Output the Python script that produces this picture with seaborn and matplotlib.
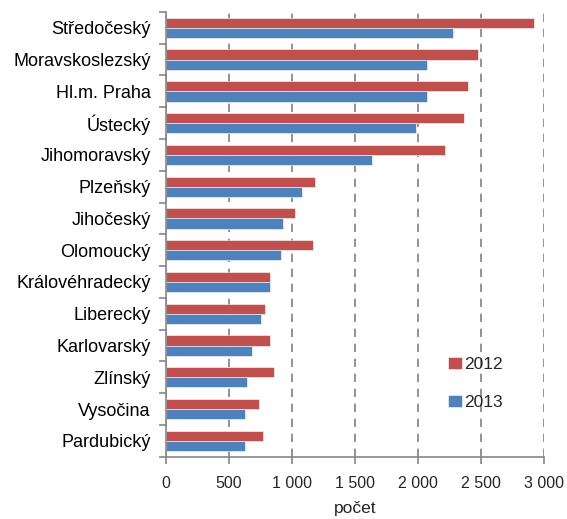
import pandas as pd
import seaborn as sns
import matplotlib.pyplot as plt
from matplotlib.ticker import FixedLocator, FuncFormatter

kraje = ['Středočeský', 'Moravskoslezský', 'Hl.m. Praha', 'Ústecký', 'Jihomoravský',
         'Plzeňský', 'Jihočeský', 'Olomoucký', 'Královéhradecký', 'Liberecký',
         'Karlovarský', 'Zlínský', 'Vysočina', 'Pardubický']
pocet_2012 = [2920, 2470, 2393, 2364, 2215, 1184, 1025, 1168, 821, 787, 821, 853, 739, 771]
pocet_2013 = [2279, 2072, 2072, 1982, 1630, 1076, 928, 912, 821, 755, 678, 644, 628, 628]
roky = ['2012', '2013']

df = pd.DataFrame({'kraj': kraje * 2,
                   'pocet': pocet_2012 + pocet_2013,
                   'rok': [roky[0]] * len(kraje) + [roky[1]] * len(kraje)})

sns.set_style('white')
plt.rcParams['font.family'] = ['Liberation Sans', 'DejaVu Sans']

fig, ax = plt.subplots(figsize=(5.67, 5.19), dpi=100)
fig.subplots_adjust(left=0.293, right=0.96, top=0.977, bottom=0.12)

sns.barplot(data=df, y='kraj', x='pocet', hue='rok', orient='h',
            palette=['#C0504D', '#4F81BD'], width=0.64, saturation=1,
            edgecolor='white', linewidth=0.4, ax=ax)

ax.set_xlim(0, 3000)
ax.set_ylim(len(kraje) - 0.5, -0.5)
ax.set_xticks(range(0, 3001, 500))
ax.xaxis.set_major_formatter(FuncFormatter(lambda v, p: f'{int(v):,}'.replace(',', ' ')))
ax.grid(axis='x', color='#808080', linestyle=(0, (5, 4)), linewidth=1.2)
ax.set_axisbelow(True)

for s in ['top', 'right']:
    ax.spines[s].set_visible(False)
for s in ['left', 'bottom']:
    ax.spines[s].set_color('#868686')
    ax.spines[s].set_linewidth(1.2)

ax.tick_params(axis='y', which='major', length=0, labelsize=13, pad=11, colors='#000000')
ax.yaxis.set_minor_locator(FixedLocator([i - 0.5 for i in range(len(kraje) + 1)]))
ax.tick_params(axis='y', which='minor', length=5, width=1.2, color='#868686', direction='out', left=True)
ax.tick_params(axis='x', length=5, width=1.2, color='#868686', direction='out', bottom=True,
               labelsize=11.5, pad=9)

ax.set_ylabel('')
ax.set_xlabel('počet', fontsize=12.5, labelpad=7)

ax.legend(frameon=False, loc='upper left', bbox_to_anchor=(0.705, 0.26),
          fontsize=12.5, handlelength=0.8, handleheight=0.75, handletextpad=0.12,
          labelspacing=1.3)

plt.savefig('out.png', dpi=100)
